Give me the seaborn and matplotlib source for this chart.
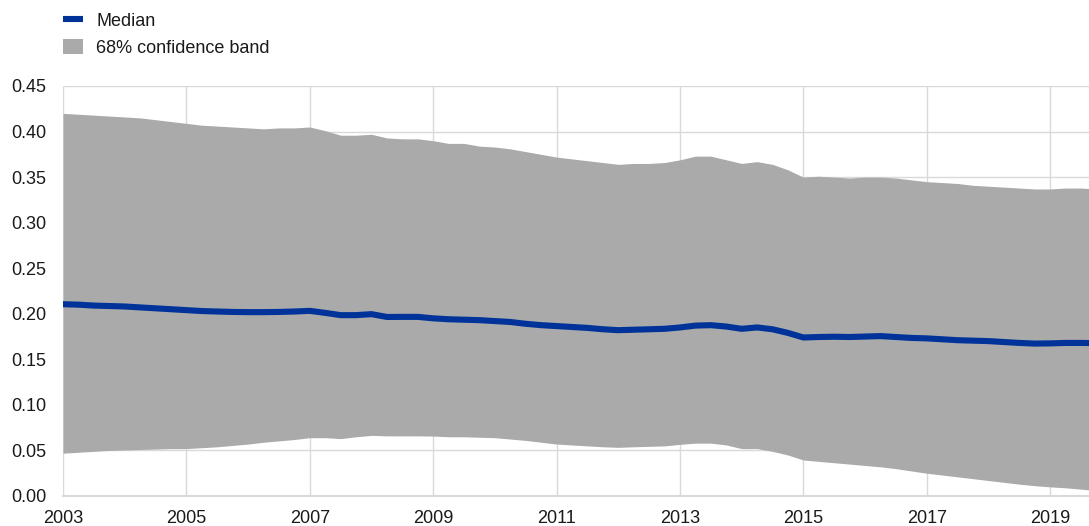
import numpy as np
import pandas as pd
import matplotlib
matplotlib.use("Agg")
import matplotlib.pyplot as plt
from matplotlib.lines import Line2D
from matplotlib.patches import Patch
import seaborn as sns

# Quarterly observations, 2003Q1 .. 2019Q4
periods = [2003 + 0.25 * i for i in range(68)]

upper = [0.420, 0.419, 0.418, 0.417, 0.416, 0.415, 0.413, 0.411,
         0.409, 0.407, 0.406, 0.405, 0.404, 0.403, 0.404, 0.404,
         0.405, 0.401, 0.396, 0.396, 0.397, 0.393, 0.392, 0.392,
         0.390, 0.387, 0.387, 0.384, 0.383, 0.381, 0.378, 0.375,
         0.372, 0.370, 0.368, 0.366, 0.364, 0.365, 0.365, 0.366,
         0.369, 0.373, 0.373, 0.369, 0.365, 0.367, 0.364, 0.358,
         0.350, 0.351, 0.350, 0.349, 0.350, 0.350, 0.349, 0.347,
         0.345, 0.344, 0.343, 0.341, 0.340, 0.339, 0.338, 0.337,
         0.337, 0.338, 0.338, 0.337]

median = [0.2105, 0.2100, 0.2090, 0.2085, 0.2080, 0.2070, 0.2060, 0.2050,
          0.2040, 0.2030, 0.2025, 0.2020, 0.2018, 0.2018, 0.2020, 0.2025,
          0.2032, 0.2010, 0.1985, 0.1985, 0.1996, 0.1965, 0.1966, 0.1966,
          0.1950, 0.1940, 0.1935, 0.1930, 0.1920, 0.1910, 0.1890, 0.1875,
          0.1865, 0.1855, 0.1845, 0.1830, 0.1820, 0.1825, 0.1830, 0.1835,
          0.1850, 0.1870, 0.1875, 0.1860, 0.1835, 0.1850, 0.1830, 0.1790,
          0.1740, 0.1745, 0.1748, 0.1745, 0.1750, 0.1755, 0.1745, 0.1735,
          0.1730, 0.1720, 0.1710, 0.1705, 0.1700, 0.1690, 0.1680, 0.1673,
          0.1675, 0.1680, 0.1680, 0.1678]

lower = [0.0470, 0.0480, 0.0490, 0.0500, 0.0505, 0.0510, 0.0515, 0.0520,
         0.0520, 0.0530, 0.0540, 0.0555, 0.0570, 0.0590, 0.0605, 0.0620,
         0.0640, 0.0640, 0.0630, 0.0650, 0.0665, 0.0660, 0.0660, 0.0660,
         0.0658, 0.0650, 0.0650, 0.0645, 0.0640, 0.0625, 0.0610, 0.0590,
         0.0570, 0.0560, 0.0550, 0.0540, 0.0534, 0.0540, 0.0545, 0.0550,
         0.0567, 0.0580, 0.0580, 0.0560, 0.0520, 0.0520, 0.0490, 0.0450,
         0.0395, 0.0380, 0.0365, 0.0350, 0.0335, 0.0320, 0.0300, 0.0275,
         0.0250, 0.0230, 0.0210, 0.0190, 0.0170, 0.0150, 0.0130, 0.0113,
         0.0100, 0.0090, 0.0075, 0.0060]

x_ticks = [2003, 2005, 2007, 2009, 2011, 2013, 2015, 2017, 2019]
y_ticks = [0.00, 0.05, 0.10, 0.15, 0.20, 0.25, 0.30, 0.35, 0.40, 0.45]
legend_labels = ["Median", "68% confidence band"]

df = pd.DataFrame({"period": periods, "median": median,
                   "lower": lower, "upper": upper})

sns.set_theme(style="white")
plt.rcParams["font.family"] = ["Liberation Sans", "DejaVu Sans"]

BLUE = "#003399"
GREY = "#aaaaaa"
GRID = "#d9d9d9"
FS = 13

fig = plt.figure(figsize=(10.89, 5.26), dpi=100)
ax = fig.add_axes([63 / 1089, 30 / 526, 1 - 63 / 1089, (496 - 86) / 526])

ax.fill_between(df["period"], df["lower"], df["upper"], color=GREY,
                linewidth=0, zorder=2)
sns.lineplot(data=df, x="period", y="median", ax=ax, color=BLUE,
             linewidth=4.4, zorder=3, legend=False)

ax.set_xlim(2003, 2019.63)
ax.set_ylim(0, 0.45)
ax.set_xticks(x_ticks)
ax.set_xticklabels([str(t) for t in x_ticks])
ax.set_yticks(y_ticks)
ax.set_yticklabels([f"{t:.2f}" for t in y_ticks])
ax.set_xlabel("")
ax.set_ylabel("")

ax.grid(True, color=GRID, linewidth=1.0, zorder=0)
ax.set_axisbelow(True)
for side in ["top", "right", "left"]:
    ax.spines[side].set_visible(False)
ax.spines["bottom"].set_color(GRID)
ax.spines["bottom"].set_linewidth(1.5)

ax.tick_params(axis="y", length=0, pad=12, labelsize=FS, labelcolor="#1a1a1a")
ax.tick_params(axis="x", length=0, pad=10, labelsize=FS, labelcolor="#1a1a1a")

handles = [Line2D([0], [0], color=BLUE, linewidth=4.4, solid_capstyle="butt"),
           Patch(facecolor=GREY, edgecolor="none")]
fig.legend(handles, legend_labels, loc="upper left",
           bbox_to_anchor=(63 / 1089, 1 - 12 / 526), frameon=False,
           borderpad=0, borderaxespad=0, fontsize=FS, handlelength=1.1,
           handleheight=0.92, handletextpad=0.75, labelspacing=0.5,
           labelcolor="#1a1a1a")

fig.savefig("out.png", dpi=100)
